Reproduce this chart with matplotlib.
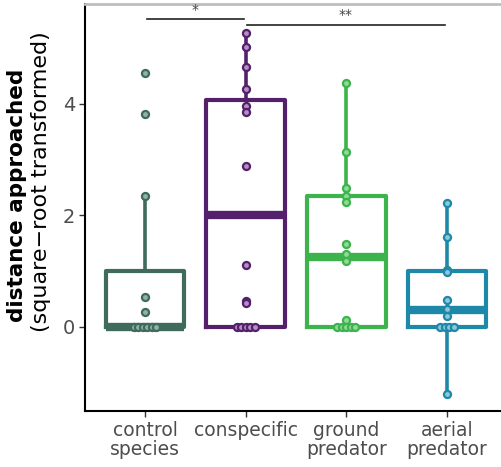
import numpy as np
import matplotlib
matplotlib.use('Agg')
import matplotlib.pyplot as plt

plt.rcParams['font.family'] = ['DejaVu Sans']

CATEGORIES = ['control\nspecies', 'conspecific', 'ground\npredator', 'aerial\npredator']
COLORS = ['#3e6b5b', '#55206b', '#3cb44b', '#1e88a8']
FILLS = ['#90b3a4', '#b28fc4', '#90d99b', '#8dc7da']

# raw points (square-root transformed distance)
control = [4.56, 3.82, 2.35, 0.54, 0.27, 0, 0, 0, 0, 0, 0]
conspecific = [5.27, 5.02, 4.66, 4.27, 3.96, 3.86, 2.89, 1.11, 0.47, 0.43, 0, 0, 0, 0, 0]
ground = [4.38, 3.14, 2.49, 2.35, 2.24, 1.49, 1.30, 1.18, 0.13, 0, 0, 0, 0, 0]
aerial = [2.22, 1.61, 1.02, 0.98, 0.48, 0.32, 0.20, 0, 0, 0, 0, -1.20]
groups = [control, conspecific, ground, aerial]

# box statistics
q1 = [0, 0, 0, 0]
medians = [0, 2.0, 1.26, 0.3]
q3 = [1.0, 4.07, 2.35, 1.0]
whis_lo = [0, 0, 0, -1.2]
whis_hi = [2.35, 5.27, 4.38, 2.22]

# significance brackets: (start, end, y, label)
brackets = [(0.02, 0.98, 5.52, '*'), (1.01, 2.98, 5.42, '**')]


def swarm_offsets(values, step=0.045):
    """spread duplicated values sideways like a small beeswarm"""
    values = np.asarray(values)
    offsets = np.zeros(len(values))
    for v in np.unique(values):
        idx = np.where(values == v)[0]
        n = len(idx)
        offsets[idx] = (np.arange(n) - (n - 1) / 2) * step
    return offsets


fig = plt.figure(figsize=(5.01, 4.67), dpi=100)
ax = fig.add_axes([85 / 501, 56 / 467, 1 - 85 / 501, 407 / 467])

stats = []
for i in range(len(CATEGORIES)):
    stats.append({'med': medians[i], 'q1': q1[i], 'q3': q3[i],
                  'whislo': whis_lo[i], 'whishi': whis_hi[i], 'fliers': []})

for i, st in enumerate(stats):
    ax.bxp([st], positions=[i], widths=0.78, showfliers=False, showcaps=False,
           boxprops=dict(color=COLORS[i], linewidth=3),
           whiskerprops=dict(color=COLORS[i], linewidth=2.6),
           medianprops=dict(color=COLORS[i], linewidth=6, solid_capstyle='butt'),
           zorder=2)
    vals = np.asarray(groups[i])
    xs = i + swarm_offsets(vals)
    ax.scatter(xs, vals, s=26, facecolor=FILLS[i], edgecolor=COLORS[i],
               linewidth=1.6, zorder=3)

for x0, x1, y, label in brackets:
    ax.plot([x0, x1], [y, y], color='#222222', linewidth=1.2, clip_on=False)
    ax.text((x0 + x1) / 2, y + 0.04, label, ha='center', va='bottom',
            fontsize=10, color='#444444')

ax.set_xlim(-0.596, 3.535)
ax.set_ylim(-1.51, 5.79)
ax.set_xticks(range(len(CATEGORIES)))
ax.set_xticklabels(CATEGORIES, fontsize=13.5, color='#4d4d4d', linespacing=1.05)
ax.set_yticks([0, 2, 4])
ax.set_yticklabels(['0', '2', '4'], fontsize=14, color='#4d4d4d')
ax.tick_params(length=4, width=1, color='#333333', pad=3)

ax.spines['right'].set_visible(False)
ax.spines['top'].set_color('#bdbdbd')
ax.spines['top'].set_linewidth(2)
ax.spines['left'].set_linewidth(1.5)
ax.spines['bottom'].set_linewidth(1.5)

fig.text(17 / 501, 1 - 195 / 467, 'distance approached', rotation=90,
         ha='center', va='center', fontsize=15.5, fontweight='bold')
fig.text(41 / 501, 1 - 182 / 467, '(square\u2212root transformed)', rotation=90,
         ha='center', va='center', fontsize=16)

fig.savefig('out.png', dpi=100)
